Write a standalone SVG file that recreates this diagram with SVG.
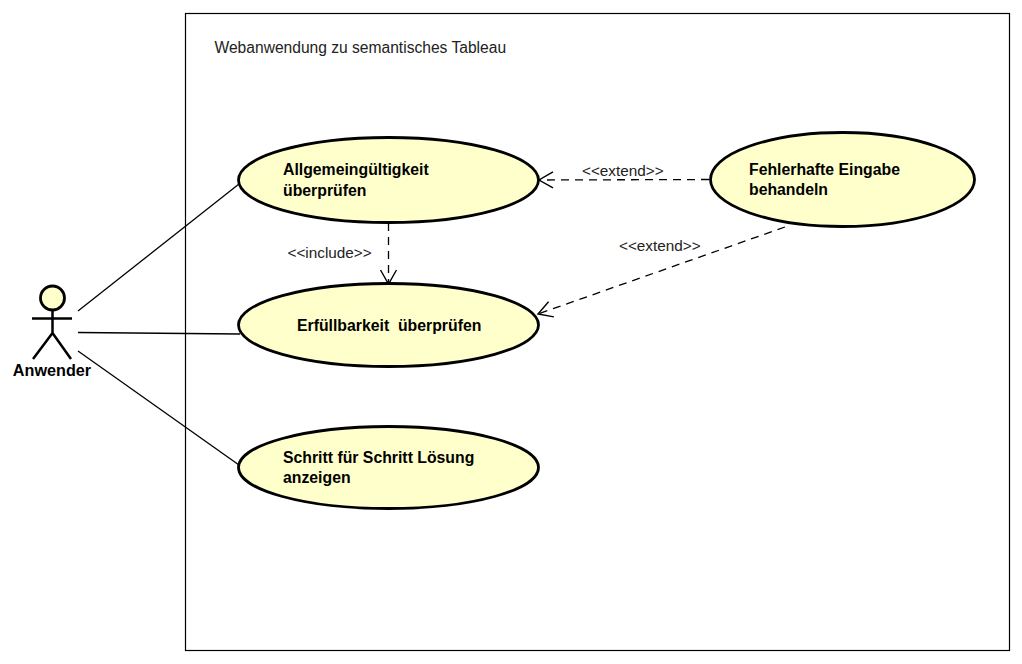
<svg xmlns="http://www.w3.org/2000/svg" width="1022" height="664" viewBox="0 0 1022 664">
<style>
text{font-family:"Liberation Sans",Arial,sans-serif;fill:#000}
.b{font-size:15.800px;font-weight:bold}
.l{font-size:15.300px;fill:#222}
.u{fill:#ffffcc;stroke:#000;stroke-width:2.800}
.c{fill:none;stroke:#000;stroke-width:1.300}
.d{stroke-dasharray:8 6}
.a{stroke:#000;stroke-width:2.500;fill:none}
</style>
<defs><marker id="o" markerUnits="userSpaceOnUse" markerWidth="20" markerHeight="20" refX="16" refY="10" orient="auto"><path d="M2 2L16 10L2 18" fill="none" stroke="#000" stroke-width="1.400"/></marker></defs>
<rect width="1022" height="664" fill="#fff"/>
<g id="system"><rect x="185.500" y="13.500" width="824" height="637" fill="none" stroke="#000" stroke-width="1.200"/><text x="214.500" y="52.500" class="l" style="font-size:15.600px">Webanwendung zu semantisches Tableau</text></g>
<g id="connectors">
<path class="c" d="M78 311L239 184"/><path class="c" d="M78 332.500L240 334"/><path class="c" d="M78 351L239 465"/>
<path class="c d" marker-end="url(#o)" d="M388.500 223L388.500 284"/>
<path class="c d" marker-end="url(#o)" d="M709 179.500L539 180"/>
<path class="c d" marker-end="url(#o)" d="M785 227L538 314"/>
<text class="l" x="287.500" y="257.500">&lt;&lt;include&gt;&gt;</text>
<text class="l" x="582" y="176">&lt;&lt;extend&gt;&gt;</text>
<text class="l" x="619" y="250.500">&lt;&lt;extend&gt;&gt;</text>
</g>
<g id="actor"><circle class="u" cx="52.500" cy="298" r="12"/><path class="a" d="M52.500 310V333M32 318.500H72M52.500 333L33 359M52.500 333L71 359"/><text class="b" x="52" y="375.500" text-anchor="middle" style="font-size:16.200px">Anwender</text></g>
<g id="uc1"><ellipse class="u" cx="388.500" cy="180" rx="150" ry="42.500"/><text class="b" x="283" y="175">Allgemeingültigkeit</text><text class="b" x="283" y="196">überprüfen</text></g>
<g id="uc2"><ellipse class="u" cx="388.500" cy="325" rx="150" ry="41.500"/><text class="b" x="297" y="331" xml:space="preserve">Erfüllbarkeit  überprüfen</text></g>
<g id="uc3"><ellipse class="u" cx="388.500" cy="467.500" rx="150" ry="41"/><text class="b" x="283" y="462.500">Schritt für Schritt Lösung</text><text class="b" x="283" y="483">anzeigen</text></g>
<g id="uc4"><ellipse class="u" cx="842.500" cy="179.500" rx="132" ry="47"/><text class="b" x="749" y="174.500">Fehlerhafte Eingabe</text><text class="b" x="749" y="194.500">behandeln</text></g>
</svg>
